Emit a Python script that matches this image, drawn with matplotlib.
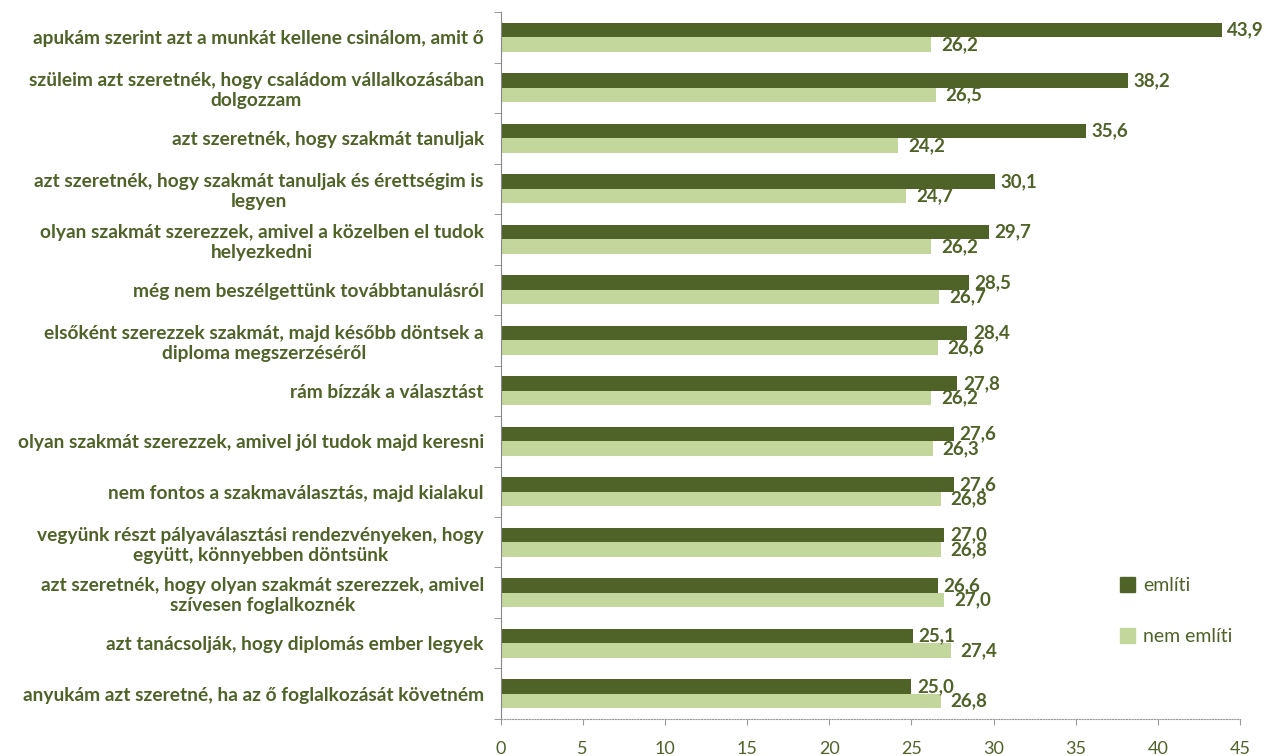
import numpy as np
import matplotlib.pyplot as plt
from matplotlib.patches import Patch

categories = [
    "apukám szerint azt a munkát kellene csinálom, amit ő",
    "szüleim azt szeretnék, hogy családom vállalkozásában\ndolgozzam",
    "azt szeretnék, hogy szakmát tanuljak",
    "azt szeretnék, hogy szakmát tanuljak és érettségim is\nlegyen",
    "olyan szakmát szerezzek, amivel a közelben el tudok\nhelyezkedni",
    "még nem beszélgettünk továbbtanulásról",
    "elsőként szerezzek szakmát, majd később döntsek a\ndiploma megszerzéséről",
    "rám bízzák a választást",
    "olyan szakmát szerezzek, amivel jól tudok majd keresni",
    "nem fontos a szakmaválasztás, majd kialakul",
    "vegyünk részt pályaválasztási rendezvényeken, hogy\negyütt, könnyebben döntsünk",
    "azt szeretnék, hogy olyan szakmát szerezzek, amivel\nszívesen foglalkoznék",
    "azt tanácsolják, hogy diplomás ember legyek",
    "anyukám azt szeretné, ha az ő foglalkozását követném",
]
emliti = [43.9, 38.2, 35.6, 30.1, 29.7, 28.5, 28.4, 27.8, 27.6, 27.6, 27.0, 26.6, 25.1, 25.0]
nem_emliti = [26.2, 26.5, 24.2, 24.7, 26.2, 26.7, 26.6, 26.2, 26.3, 26.8, 26.8, 27.0, 27.4, 26.8]
series_names = ["említi", "nem említi"]
x_ticks = [0, 5, 10, 15, 20, 25, 30, 35, 40, 45]

dark = "#4F6228"
light = "#C3D69B"
text_col = "#4F6228"

plt.rcParams["font.family"] = ["Lato", "DejaVu Sans"]

fig = plt.figure(figsize=(12.64, 7.56), dpi=100)
ax = fig.add_axes([0.396, 0.049, 0.585, 0.935])

y = np.arange(len(categories))
h = 0.29
ax.barh(y - h / 2, emliti, height=h, color=dark)
ax.barh(y + h / 2, nem_emliti, height=h, color=light)

for yi, v in zip(y, emliti):
    ax.annotate(f"{v:.1f}".replace(".", ","), (v, yi - h / 2), xytext=(4, 0),
                textcoords="offset points", va="center", ha="left",
                fontsize=13.5, fontweight="bold", color=text_col)
for yi, v in zip(y, nem_emliti):
    ax.annotate(f"{v:.1f}".replace(".", ","), (v, yi + h / 2), xytext=(7, 0),
                textcoords="offset points", va="center", ha="left",
                fontsize=13.5, fontweight="bold", color=text_col)

ax.set_xlim(0, 45)
ax.set_ylim(len(categories) - 0.5, -0.5)
ax.set_xticks(x_ticks)
ax.set_xticklabels([str(t) for t in x_ticks], fontsize=13, color=text_col)
ax.tick_params(axis="x", length=4, color="#999999", pad=12)

ax.set_yticks(y)
ax.set_yticklabels(categories, fontsize=13.8, fontweight="bold", color=text_col,
                   multialignment="center")
ax.tick_params(axis="y", length=0, pad=12)
ax.set_yticks(np.arange(len(categories) + 1) - 0.5, minor=True)
ax.tick_params(axis="y", which="minor", length=5, color="#888888")

for s in ["top", "right"]:
    ax.spines[s].set_visible(False)
ax.spines["left"].set_color("#888888")
ax.spines["bottom"].set_color("#999999")
ax.spines["bottom"].set_linestyle((0, (1, 1.5)))

handles = [Patch(color=dark), Patch(color=light)]
fig.legend(handles, series_names, loc="upper left", bbox_to_anchor=(0.872, 0.26),
           frameon=False, fontsize=14, labelcolor=text_col, labelspacing=1.75,
           handlelength=0.8, handleheight=0.8, handletextpad=0.4)

fig.savefig("out.png", dpi=100)
